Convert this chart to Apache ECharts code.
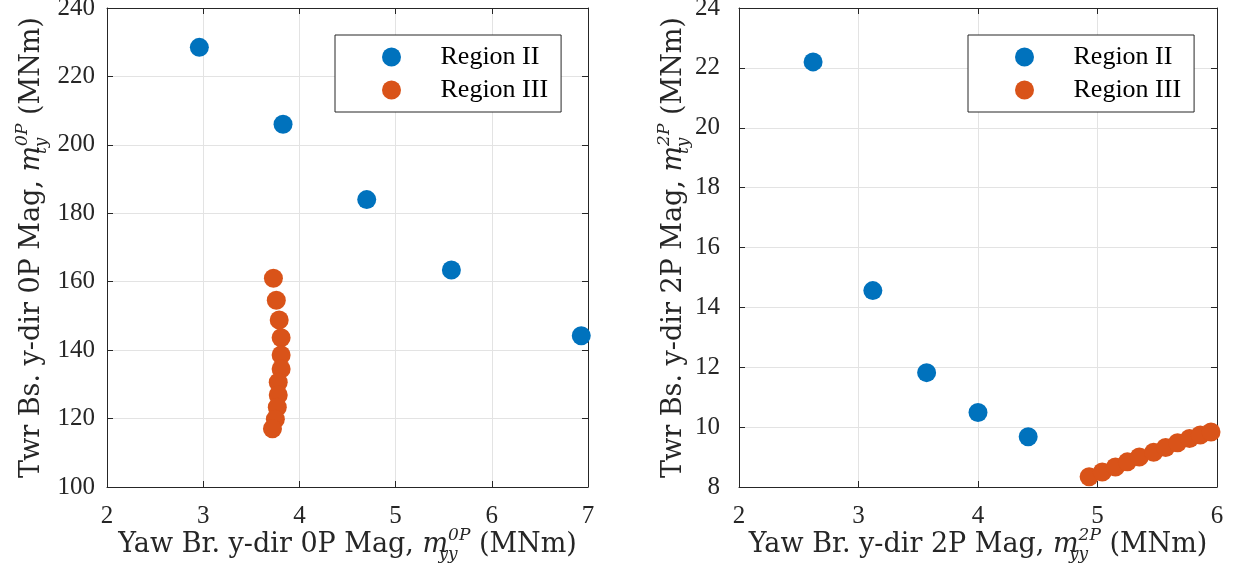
<!DOCTYPE html>
<html>
<head>
<meta charset="utf-8">
<script src="https://cdn.jsdelivr.net/npm/echarts@6/dist/echarts.min.js"></script>
<style>
  html, body { margin: 0; padding: 0; background: #fff; }
  #chart { width: 1243px; height: 575px; }
</style>
</head>
<body>
<div id="chart"></div>
<script>
const echarts = window.echarts

// 0P 图数据
const left2X = [2.96, 3.83, 4.70, 5.58, 6.93]
const left2Y = [228.5, 206.0, 184.0, 163.4, 144.2]
const left3X = [3.73, 3.76, 3.79, 3.81, 3.81, 3.81, 3.78, 3.78, 3.77, 3.75, 3.72]
const left3Y = [161.0, 154.6, 148.8, 143.6, 138.6, 134.5, 130.6, 126.9, 123.3, 119.8, 117.0]

// 2P 图数据
const right2X = [2.62, 3.12, 3.57, 4.00, 4.42]
const right2Y = [22.2, 14.56, 11.82, 10.49, 9.68]
const right3X = [4.93, 5.04, 5.15, 5.25, 5.35, 5.47, 5.57, 5.67, 5.77, 5.86, 5.95]
const right3Y = [8.34, 8.50, 8.67, 8.84, 9.00, 9.16, 9.32, 9.48, 9.62, 9.74, 9.84]

const seriesNames = ['Region II', 'Region III']
const colors = ['#0072BD', '#D95319']

const leftXTicks = { min: 2, max: 7, interval: 1 }
const leftYTicks = { min: 100, max: 240, interval: 20 }
const rightXTicks = { min: 2, max: 6, interval: 1 }
const rightYTicks = { min: 8, max: 24, interval: 2 }

const xTitleLeft = '{t|Yaw Br. y-dir 0P Mag, }{i|m}{sb|yy}{sp|0P}{t| (MNm)}'
const yTitleLeft = '{t|Twr Bs. y-dir 0P Mag, }{i|m}{sb|ty}{sp|0P}{t| (MNm)}'
const xTitleRight = '{t|Yaw Br. y-dir 2P Mag, }{i|m}{sb|yy}{sp|2P}{t| (MNm)}'
const yTitleRight = '{t|Twr Bs. y-dir 2P Mag, }{i|m}{sb|ty}{sp|2P}{t| (MNm)}'

const serif = 'Liberation Serif'
const titleFont = 'DejaVu Serif'
const ink = '#262626'

const pairs = function (xs, ys) {
  return xs.map((x, i) => [x, ys[i]])
}

const titleRich = {
  t: { fontFamily: titleFont, fontSize: 27, color: ink, lineHeight: 36 },
  i: { fontFamily: titleFont, fontSize: 27, fontStyle: 'italic', color: ink, lineHeight: 36 },
  sb: { fontFamily: titleFont, fontSize: 17, fontStyle: 'italic', color: ink, verticalAlign: 'bottom', width: 0, lineHeight: 36 },
  sp: { fontFamily: titleFont, fontSize: 17, fontStyle: 'italic', color: ink, verticalAlign: 'top', lineHeight: 36 }
}

const mainX = function (gi, ticks, title) {
  return {
    gridIndex: gi,
    type: 'value',
    min: ticks.min,
    max: ticks.max,
    interval: ticks.interval,
    name: title,
    nameLocation: 'middle',
    nameGap: 40,
    nameMoveOverlap: false,
    nameTextStyle: { rich: titleRich },
    axisLine: { show: true, onZero: false, lineStyle: { color: ink, width: 1 } },
    axisTick: { show: true, inside: true, length: 6, lineStyle: { color: ink } },
    axisLabel: { fontFamily: serif, fontSize: 25, color: ink, margin: 17 },
    splitLine: { show: true, lineStyle: { color: '#e3e3e3', width: 1 } }
  }
}

const mainY = function (gi, ticks, title, gap, margin) {
  return {
    gridIndex: gi,
    type: 'value',
    min: ticks.min,
    max: ticks.max,
    interval: ticks.interval,
    name: title,
    nameLocation: 'middle',
    nameGap: gap,
    nameRotate: 90,
    nameMoveOverlap: false,
    nameTextStyle: { rich: titleRich },
    axisLine: { show: true, onZero: false, lineStyle: { color: ink, width: 1 } },
    axisTick: { show: true, inside: true, length: 6, lineStyle: { color: ink } },
    axisLabel: { fontFamily: serif, fontSize: 25, color: ink, margin: margin },
    splitLine: { show: true, lineStyle: { color: '#e3e3e3', width: 1 } }
  }
}

// 上边和右边的镜像刻度
const mirror = function (gi, ticks, position) {
  return {
    gridIndex: gi,
    type: 'value',
    position: position,
    min: ticks.min,
    max: ticks.max,
    interval: ticks.interval,
    axisLine: { show: true, onZero: false, lineStyle: { color: ink, width: 1 } },
    axisTick: { show: true, inside: true, length: 6, lineStyle: { color: ink } },
    axisLabel: { show: false },
    splitLine: { show: false }
  }
}

const legendBox = function (left) {
  return {
    orient: 'vertical',
    left: left,
    top: 35,
    data: seriesNames,
    icon: 'circle',
    itemWidth: 88,
    itemHeight: 19,
    itemGap: 7,
    padding: [9, 13, 9, 47],
    borderColor: ink,
    borderWidth: 1,
    backgroundColor: '#fff',
    textStyle: { fontFamily: serif, fontSize: 26, color: '#000' }
  }
}

const scatter = function (name, gi, data, color) {
  return {
    name: name,
    type: 'scatter',
    xAxisIndex: gi,
    yAxisIndex: gi,
    data: data,
    symbolSize: 19,
    itemStyle: { color: color, opacity: 1 },
    emphasis: { disabled: true }
  }
}

const myChart = echarts.init(document.getElementById('chart'), null, { renderer: 'canvas' })
const option = {
  animation: false,
  backgroundColor: '#fff',
  color: colors,
  grid: [
    { left: 107, top: 8, width: 481, height: 479, containLabel: false, outerBoundsMode: 'none' },
    { left: 739, top: 8, width: 478, height: 479, containLabel: false, outerBoundsMode: 'none' }
  ],
  xAxis: [
    mainX(0, leftXTicks, xTitleLeft),
    mainX(1, rightXTicks, xTitleRight),
    mirror(0, leftXTicks, 'top'),
    mirror(1, rightXTicks, 'top')
  ],
  yAxis: [
    mainY(0, leftYTicks, yTitleLeft, 57, 12),
    mainY(1, rightYTicks, yTitleRight, 47, 19),
    mirror(0, leftYTicks, 'right'),
    mirror(1, rightYTicks, 'right')
  ],
  legend: [legendBox(335), legendBox(968)],
  series: [
    scatter(seriesNames[0], 0, pairs(left2X, left2Y), colors[0]),
    scatter(seriesNames[1], 0, pairs(left3X, left3Y), colors[1]),
    scatter(seriesNames[0], 1, pairs(right2X, right2Y), colors[0]),
    scatter(seriesNames[1], 1, pairs(right3X, right3Y), colors[1])
  ]
}
myChart.setOption(option)
</script>
</body>
</html>
